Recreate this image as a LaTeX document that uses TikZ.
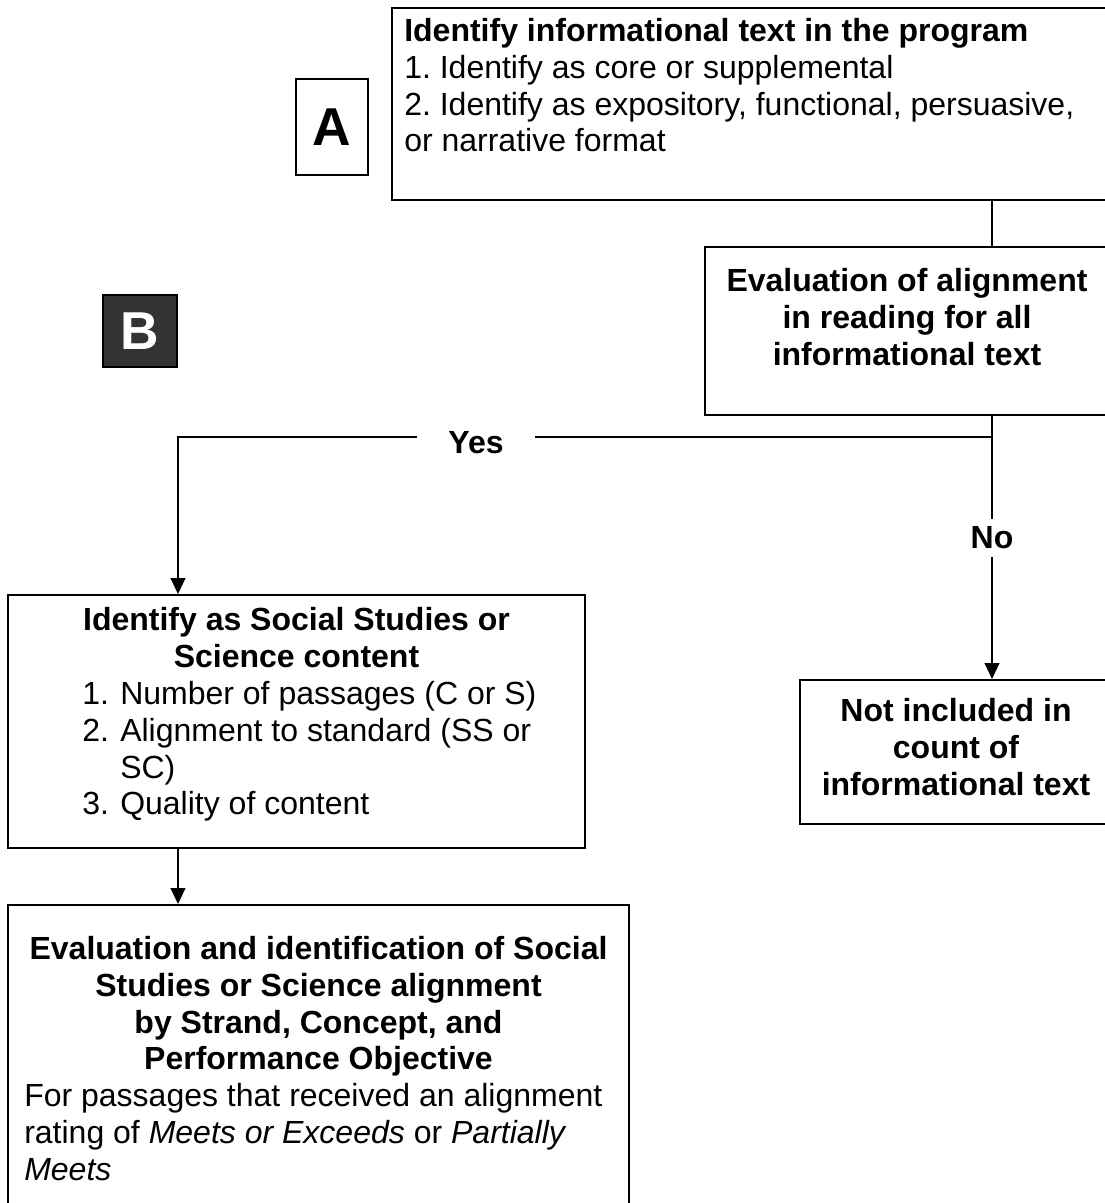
\documentclass[tikz,border=0pt]{standalone}
\usepackage{fontspec}
\setmainfont{Liberation Sans}
\usetikzlibrary{arrows.meta,positioning,fit,calc}
\definecolor{tagDark}{HTML}{333333}
\newcommand{\flowfont}{\fontsize{24}{27.6}\selectfont\frenchspacing}
\tikzset{
    flowBox/.style={
        rectangle,
        draw,
        line width=1.4pt,
        inner sep=0pt
    },
    tagBox/.style={flowBox, font=\fontsize{40}{44}\selectfont\bfseries},
    % Texts
    headText/.style={font=\flowfont\bfseries, align=center, inner sep=0pt},
    bodyText/.style={font=\flowfont, align=left, inner sep=0pt},
    answer/.style={font=\flowfont\bfseries, inner xsep=23pt, inner ysep=6pt},
    % Connectors
    flowLine/.style={line width=1.4pt},
    flowArrow/.style={flowLine, -{Triangle[length=12pt,width=11pt]}}
}
\begin{document}
\begin{tikzpicture}[x=0.75pt, y=-0.75pt]
\useasboundingbox (0,0) rectangle (1105,1203);
\clip (0,0) rectangle (1105,1203);

% boxes
\node[flowBox, fit={(392,8) (1110,200)}] (readBox) {};
\node[tagBox, minimum width=54pt, minimum height=72pt] (tagA) at (332,127) {A};
\node[tagBox, fill=tagDark, text=white, minimum width=55.5pt, minimum height=54pt] (tagB) at (140,331) {B};
\node[flowBox, fit={(705,247) (1110,415)}] (alignBox) {};
\node[flowBox, fit={(8,595) (585,848)}] (subjBox) {};
\node[flowBox, fit={(800,680) (1112,824)}] (skipBox) {};
\node[flowBox, fit={(8,905) (629,1215)}] (strandBox) {};

% texts
\node[bodyText, anchor=north west] (readText) at (404,18)
    {\textbf{Identify informational text in the program}\\
     1. Identify as core or supplemental\\
     2. Identify as expository, functional, persuasive,\\
     or narrative format};
\node[headText, anchor=north] (alignText) at (907,268)
    {Evaluation of alignment\\ in reading for all\\ informational text};
\node[headText, anchor=north] (subjHead) at (296.5,607)
    {Identify as Social Studies or\\ Science content};
\node[bodyText, anchor=north west] (subjList) at (82,681)
    {\makebox[28.5pt][l]{1.}Number of passages (C or S)\\
     \makebox[28.5pt][l]{2.}Alignment to standard (SS or\\
     \hspace*{28.5pt}SC)\\
     \makebox[28.5pt][l]{3.}Quality of content};
\node[headText, anchor=north] (skipText) at (956,698)
    {Not included in\\ count of\\ informational text};
\node[headText, anchor=north] (strandHead) at (318.5,936)
    {Evaluation and identification of Social\\ Studies or Science alignment\\
     by Strand, Concept, and\\ Performance Objective};
\node[bodyText, anchor=north west] (strandNote) at (24,1083)
    {For passages that received an alignment\\
     rating of \textit{Meets or Exceeds} or \textit{Partially}\\
     \textit{Meets}};

% connectors
\coordinate (fork) at (992,437);
\coordinate (yesTurn) at (178,437);
\node[answer] (yesLbl) at (476,443) {Yes};
\node[answer] (noLbl) at (992,538) {No};
\draw[flowLine] (readBox.south -| fork) -- (alignBox.north -| fork);
\draw[flowLine] (alignBox.south -| fork) -- (fork) -- (yesLbl.east |- fork);
\draw[flowArrow] (yesLbl.west |- fork) -- (yesTurn) -- (subjBox.north -| yesTurn);
\draw[flowLine] (fork) -- (noLbl.north -| fork);
\draw[flowArrow] (noLbl.south -| fork) -- (skipBox.north -| fork);
\draw[flowArrow] (subjBox.south -| yesTurn) -- (strandBox.north -| yesTurn);
\end{tikzpicture}
\end{document}
